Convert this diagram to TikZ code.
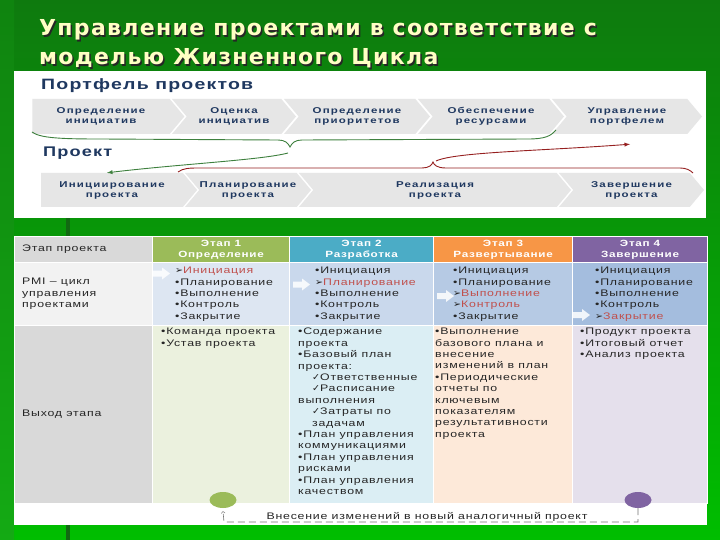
\documentclass[tikz,border=0pt]{standalone}
\usepackage{fontspec}
\setmainfont{Liberation Sans}
\newfontfamily\titlefont[LetterSpace=6]{DejaVu Sans}
\newfontfamily\widefont[FakeStretch=1.3,LetterSpace=8]{Liberation Sans}
\newfontfamily\chevfont[FakeStretch=1.35,LetterSpace=14]{Liberation Sans}
\newfontfamily\symfont{DejaVu Sans}
\usetikzlibrary{positioning,shapes.geometric,shapes.symbols}
\definecolor{bgtop}{RGB}{14,122,14}
\definecolor{bgbottom}{RGB}{0,190,0}
\definecolor{bgstrip}{RGB}{20,170,20}
\definecolor{bgline}{RGB}{18,105,18}
\definecolor{titleyellow}{RGB}{255,255,196}
\definecolor{navy}{RGB}{31,56,96}
\definecolor{chevgray}{RGB}{230,230,230}
\definecolor{bracegreen}{RGB}{62,128,62}
\definecolor{bracered}{RGB}{150,32,32}
\definecolor{hlred}{RGB}{192,80,77}
\definecolor{hdgray}{RGB}{217,217,217}
\definecolor{pmigray}{RGB}{242,242,242}
\definecolor{stage1}{RGB}{155,187,89}
\definecolor{stage2}{RGB}{75,172,198}
\definecolor{stage3}{RGB}{247,150,70}
\definecolor{stage4}{RGB}{128,100,162}
\definecolor{pmi1}{RGB}{221,230,242}
\definecolor{pmi2}{RGB}{201,216,236}
\definecolor{pmi3}{RGB}{182,202,228}
\definecolor{pmi4}{RGB}{164,189,222}
\definecolor{out1}{RGB}{235,241,222}
\definecolor{out2}{RGB}{219,238,244}
\definecolor{out3}{RGB}{253,233,217}
\definecolor{out4}{RGB}{229,224,236}
\definecolor{celltext}{RGB}{38,38,38}
\newcommand{\hl}[1]{{\symfont\char"27A2}\textcolor{hlred}{#1}}
\newcommand{\ok}{{\symfont\char"2713}}

\begin{document}
\begin{tikzpicture}[x=1pt, y=-1pt, >=latex,
  title/.style={anchor=base west, inner sep=0pt, font=\titlefont\bfseries\fontsize{22}{26}\selectfont},
  chev/.style={signal, signal to=east, signal from=west, signal pointer angle=100,
    fill=chevgray, inner sep=0pt, minimum height=35pt, text=navy, align=center,
    font=\chevfont\bfseries\fontsize{8.5}{10}\selectfont},
  first/.style={signal from=nowhere},
  section/.style={anchor=base west, inner sep=0pt, text=navy, font=\widefont\bfseries\fontsize{15}{18}\selectfont},
  cell/.style={draw=white, line width=1.2pt, anchor=north west, inner sep=0pt},
  celltext/.style={anchor=north west, inner sep=0pt, align=left, text=celltext,
    font=\widefont\fontsize{9.5}{11.4}\selectfont},
  headtext/.style={text=white, align=center, font=\widefont\bfseries\fontsize{9}{11}\selectfont},
  gbrace/.style={draw=bracegreen, line width=0.9pt},
  rbrace/.style={draw=bracered, line width=0.9pt},
  marker/.style={ellipse, minimum width=27pt, minimum height=16pt, inner sep=0pt}]

  % background
  \fill[top color=bgtop, bottom color=bgbottom] (0,0) rectangle (720,540);
  \fill[top color=bgtop!80!bgstrip, bottom color=bgstrip] (0,0) rectangle (14,540);
  \fill[bgline] (66,200) rectangle (70,540);
  \fill[white] (14,71) rectangle (706,218);
  \fill[white] (14,236) rectangle (707,525);

  % title
  \foreach \dx/\col in {1.5/black!85, 0/titleyellow} {
    \node[title, text=\col] (title1) at (39+\dx,36+\dx) {Управление проектами в соответствие с};
    \node[title, text=\col] (title2) at (39+\dx,65+\dx) {моделью Жизненного Цикла};
  }

  % portfolio
  \node[section] (portfolio) at (41,90) {Портфель проектов};
  \node[chev, first, minimum width=152pt] (c1) at (101,116.5) {Определение\\инициатив};
  \node[chev, minimum width=124pt] (c2) at (234,116.5) {Оценка\\инициатив};
  \node[chev, minimum width=146pt] (c3) at (357,116.5) {Определение\\приоритетов};
  \node[chev, minimum width=146pt] (c4) at (491,116.5) {Обеспечение\\ресурсами};
  \node[chev, minimum width=150pt] (c5) at (627,116.5) {Управление\\портфелем};

  % project
  \node[section, font=\widefont\bfseries\fontsize{14}{16}\selectfont] (project) at (43,157) {Проект};
  \node[chev, first, minimum width=156pt, minimum height=34pt] (p1) at (112,190) {Инициирование\\проекта};
  \node[chev, minimum width=126pt, minimum height=34pt] (p2) at (248,190) {Планирование\\проекта};
  \node[chev, minimum width=272pt, minimum height=34pt] (p3) at (435,190) {Реализация\\проекта};
  \node[chev, minimum width=145pt, minimum height=34pt] (p4) at (631.5,190) {Завершение\\проекта};

  % braces between the rows
  \coordinate (gtip) at (290,147);
  \coordinate (rtip) at (433,162);
  \draw[gbrace] (32,132) .. controls (40,138) and (60,139) .. (100,139) -- (278,140)
    .. controls (285,140) and (288,143) .. (gtip) .. controls (292,143) and (295,140) .. (302,140)
    -- (528,139) .. controls (545,139) and (551,136) .. (556,130);
  \draw[gbrace, ->] (288,153) .. controls (262,160) and (180,164) .. ([xshift=-5pt]p1.north);
  \draw[rbrace] (178,172) .. controls (183,168) and (190,168) .. (200,168) -- (422,168)
    .. controls (429,168) and (432,165) .. (rtip) .. controls (434,165) and (437,168) .. (446,168)
    -- (680,168) .. controls (686,168) and (690,170) .. (693,173);
  \draw[rbrace, ->] (436,161) .. controls (455,152) and (540,151) .. ([xshift=3pt,yshift=-10pt]c5.south);

  % table
  \foreach \n/\x/\w/\hc/\pc/\oc in {0/14/138/hdgray/pmigray/hdgray, 1/152/137/stage1/pmi1/out1,
      2/289/144/stage2/pmi2/out2, 3/433/139/stage3/pmi3/out3, 4/572/135/stage4/pmi4/out4} {
    \node[cell, fill=\hc, minimum width=\w, minimum height=26] (h\n) at (\x,236) {};
    \node[cell, fill=\pc, minimum width=\w, minimum height=63] (m\n) at (\x,262) {};
    \node[cell, fill=\oc, minimum width=\w, minimum height=178] (o\n) at (\x,325) {};
  }

  % header row
  \node[celltext, anchor=west] (label0) at (22,249) {Этап проекта};
  \node[headtext] (head1) at (h1) {Этап 1\\Определение};
  \node[headtext] (head2) at (h2) {Этап 2\\Разработка};
  \node[headtext] (head3) at (h3) {Этап 3\\Развертывание};
  \node[headtext] (head4) at (h4) {Этап 4\\Завершение};

  % PMI row
  \foreach \ax/\ay in {153/273.5, 293/284.5, 437/296, 573/315}
    \fill[white, opacity=0.85] (\ax,\ay) ++(0,-3) -- ++(9,0) -- ++(0,-3) -- ++(8,6)
      -- ++(-8,6) -- ++(0,-3) -- ++(-9,0) -- cycle;
  \node[celltext] (label1) at (22,278) {PMI – цикл\\управления\\проектами};
  \node[celltext] (pmi1) at (175,267) {\hl{Инициация}\\•Планирование\\•Выполнение\\•Контроль\\•Закрытие};
  \node[celltext] (pmi2) at (315,267) {•Инициация\\\hl{Планирование}\\•Выполнение\\•Контроль\\•Закрытие};
  \node[celltext] (pmi3) at (453,267) {•Инициация\\•Планирование\\\hl{Выполнение}\\\hl{Контроль}\\•Закрытие};
  \node[celltext] (pmi4) at (595,267) {•Инициация\\•Планирование\\•Выполнение\\•Контроль\\\hl{Закрытие}};

  % output row
  \node[celltext, anchor=west] (label2) at (22,414) {Выход этапа};
  \node[celltext] (out1) at (161,328) {•Команда проекта\\•Устав проекта};
  \node[celltext] (out2) at (298,328) {•Содержание\\проекта\\•Базовый план\\проекта:\\
    \hspace*{14pt}\ok Ответственные\\\hspace*{14pt}\ok Расписание\\выполнения\\
    \hspace*{14pt}\ok Затраты по\\\hspace*{14pt}задачам\\•План управления\\коммуникациями\\
    •План управления\\рисками\\•План управления\\качеством};
  \node[celltext] (out3) at (435,328) {•Выполнение\\базового плана и\\внесение\\изменений в план\\
    •Периодические\\отчеты по\\ключевым\\показателям\\результативности\\проекта};
  \node[celltext] (out4) at (580,328) {•Продукт проекта\\•Итоговый отчет\\•Анализ проекта};

  % loop back to a new project
  \node[marker, fill=stage1] (start) at (223,500) {};
  \node[marker, fill=stage4] (finish) at (638,500) {};
  \coordinate (loop) at (224,522);
  \draw[black!55, line width=0.6pt, dash pattern=on 7pt off 4pt, -to] (finish.south) |- (loop)
    -- ([yshift=-3pt]start.south);
  \node[celltext, anchor=base] (change) at (427,519)
    {Внесение изменений в новый аналогичный проект};
\end{tikzpicture}
\end{document}
